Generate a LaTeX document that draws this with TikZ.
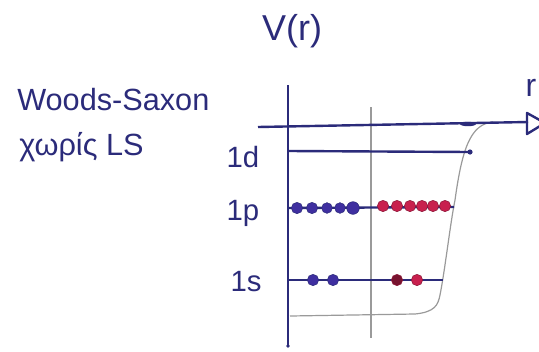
\documentclass[tikz,border=0pt]{standalone}
\usepackage{fontspec}
\setmainfont{Liberation Sans}
\usetikzlibrary{arrows.meta}
\definecolor{ink}{HTML}{2B2B7A}
\definecolor{bluedot}{HTML}{3F2FA0}
\definecolor{reddot}{HTML}{C8204E}
\definecolor{pencil}{HTML}{9A9A9A}
\tikzset{
  inkline/.style={draw=ink, line width=1.8pt},
  levelline/.style={draw=ink, line width=1.8pt},
  pencilline/.style={draw=pencil, line width=0.9pt},
  bdot/.style={circle, fill=bluedot, draw=ink, line width=0.4pt, inner sep=0pt, minimum size=8.5pt},
  rdot/.style={circle, fill=reddot, draw=reddot!70!black, line width=0.4pt, inner sep=0pt, minimum size=8.5pt},
  hand/.style={text=ink, inner sep=0pt},
}
\begin{document}
\begin{tikzpicture}[x=0.75pt, y=-0.75pt]
\useasboundingbox (0,0) rectangle (539,351);
% texts
\node[hand, font=\fontsize{23}{28}\selectfont, anchor=west] (ws) at (17,100) {Woods-Saxon};
\node[hand, font=\fontsize{23}{28}\selectfont, anchor=west] (lsx) at (19,147) {χωρίς LS};
\node[hand, font=\fontsize{27}{30}\selectfont] (vr) at (292,31) {V(r)};
\node[hand, font=\fontsize{24}{28}\selectfont] (rl) at (531,88) {r};
\node[hand, font=\fontsize{22}{26}\selectfont] (l1d) at (243,157) {1d};
\node[hand, font=\fontsize{22}{26}\selectfont] (l1p) at (243,213) {1p};
\node[hand, font=\fontsize{22}{26}\selectfont] (l1s) at (246,282) {1s};
% gray pencil lines
\coordinate (gtop) at (371,107);
\coordinate (gbot) at (371,338);
\draw[pencilline] (gtop) -- (gbot);
\coordinate (wsA) at (290,316);
\coordinate (wsB) at (415,314);
\coordinate (wsC) at (440,295);
\coordinate (wsD) at (455,200);
\coordinate (wsE) at (493,122);
\draw[pencilline] (wsA) -- (wsB) .. controls (435,312) and (438,305) .. (wsC)
  .. controls (445,270) and (450,225) .. (wsD)
  .. controls (462,150) and (470,124) .. (wsE);
% axes
\coordinate (vtop) at (288,85);
\coordinate (vbot) at (288,346);
\draw[inkline] (vtop) -- (vbot);
\fill[ink] (vbot) circle (1.8);
\coordinate (rstart) at (258,127);
\coordinate (rend) at (528,122);
\draw[inkline] (rstart) -- (rend);
\coordinate (t1) at (527,113);
\coordinate (t2) at (545,123);
\coordinate (t3) at (527,134);
\draw[draw=ink, line width=1.8pt, line join=round] (t1) -- (t2) -- (t3) -- cycle;
\fill[ink] (468,124) ellipse (8 and 2.2);
% levels
\coordinate (d0) at (289,151);
\coordinate (d1) at (470,152);
\draw[levelline] (d0) -- (d1);
\fill[ink] (d1) circle (2.6);
\coordinate (p0) at (289,208);
\coordinate (p1) at (454,207);
\draw[levelline] (p0) -- (p1);
\coordinate (s0) at (289,280);
\coordinate (s1) at (443,280);
\draw[levelline] (s0) -- (s1);
% 1p particles
\foreach \x/\s [count=\i] in {297/8.5,312/8.5,327/8,340/8,353/9.5}
  \node[bdot, minimum size=\s pt] (pb\i) at (\x,208) {};
\foreach \x [count=\i] in {383,397,410,422,433,445}
  \node[rdot] (pr\i) at (\x,206) {};
% 1s particles
\node[bdot] (sb1) at (313,280) {};
\node[bdot] (sb2) at (333,280) {};
\node[rdot, fill=reddot!60!black] (sr1) at (397,280) {};
\node[rdot] (sr2) at (417,280) {};
\end{tikzpicture}
\end{document}
